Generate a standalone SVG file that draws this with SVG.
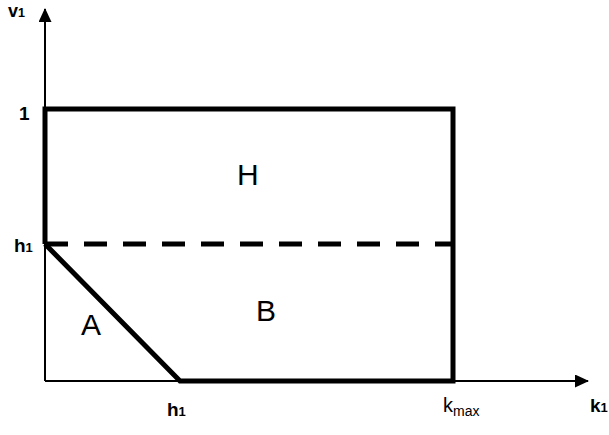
<svg xmlns="http://www.w3.org/2000/svg" width="609" height="435" viewBox="0 0 609 435">
<style>
.ax{stroke:#000;stroke-width:2;fill:none}
.th{stroke:#000;stroke-width:5;fill:none}
.lb{font-family:"Liberation Sans",Arial,sans-serif;font-weight:bold;font-size:19px;fill:#000}
.sb{font-size:13px}
.rg{font-family:"Liberation Sans",Arial,sans-serif;font-size:30px;fill:#000}
</style>
<defs>
<marker id="ar" markerWidth="14" markerHeight="13" refX="13" refY="6.5" orient="auto" markerUnits="userSpaceOnUse"><path d="M0,0L14,6.5L0,13z" fill="#000"/></marker>
</defs>
<rect width="609" height="435" fill="#fff"/>
<g id="connectors">
<line class="ax" x1="45" y1="381" x2="45" y2="9" marker-end="url(#ar)"/>
<line class="ax" x1="45" y1="381" x2="588" y2="381" marker-end="url(#ar)"/>
<polyline class="th" points="45,244 45,109 453,109 453,381 180,381 45,244"/>
<line class="th" x1="45" y1="244" x2="453" y2="244" stroke-dasharray="23,16"/>
</g>
<g id="labels">
<text class="lb" x="8" y="16.5" style="font-size:18px">v<tspan style="font-size:12.5px">1</tspan></text>
<text class="lb" x="19" y="120">1</text>
<text class="lb" x="14" y="252">h<tspan class="sb">1</tspan></text>
<text class="lb" x="167" y="416">h<tspan class="sb">1</tspan></text>
<text class="lb" x="590" y="412">k<tspan class="sb">1</tspan></text>
<text style="font-family:'Liberation Sans',Arial,sans-serif;font-size:20px" x="443" y="412">k<tspan font-size="14" dy="4">max</tspan></text>
<text class="rg" x="237" y="185">H</text>
<text class="rg" x="256" y="321">B</text>
<text class="rg" x="81" y="335">A</text>
</g>
</svg>
